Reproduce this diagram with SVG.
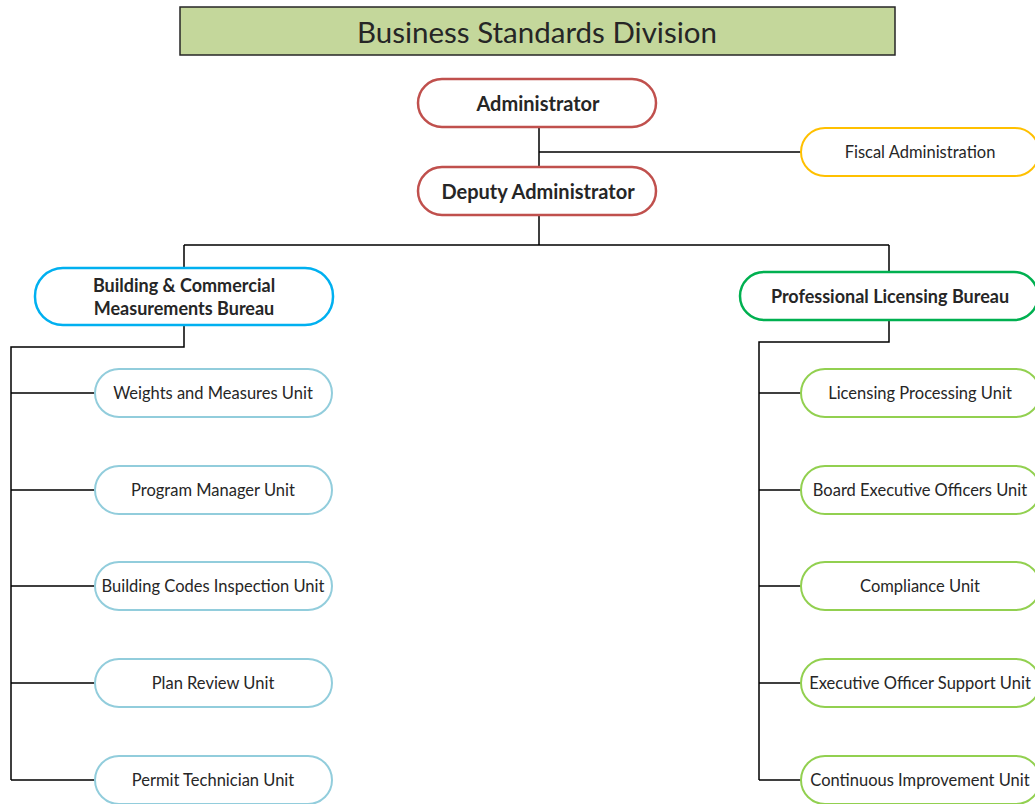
<svg xmlns="http://www.w3.org/2000/svg" width="1035" height="804" viewBox="0 0 1035 804">
<style>
text{font-family:Lato,"Open Sans","Liberation Sans",sans-serif;text-anchor:middle;dominant-baseline:central;fill:#262626}
.lead{fill:#fff;stroke:#c0504d;stroke-width:2.5}
.fis{fill:#fff;stroke:#ffc000;stroke-width:2}
.bb{fill:#fff;stroke:#00b0f0;stroke-width:2.5}
.gb{fill:#fff;stroke:#00b050;stroke-width:2.5}
.bu{fill:#fff;stroke:#92cddc;stroke-width:2}
.gu{fill:#fff;stroke:#92d050;stroke-width:2}
.big{font-size:20px;font-weight:bold}
.mid{font-size:18px;font-weight:bold}
.sm{font-size:16.5px}
.con{fill:none;stroke:#000;stroke-width:1.5}
</style>
<rect width="1035" height="804" fill="#fff"/>
<g id="connectors">
<path class="con" d="M539 127V245M539 152H801M184 245H889M184 245V268M889 245V272"/>
<path class="con" d="M184 325V347H11V780M11 393H95M11 490H95M11 586H95M11 683H95M11 780H95"/>
<path class="con" d="M889 320V342H759V780M759 393H801M759 490H801M759 586H801M759 683H801M759 780H801"/>
</g>
<g id="title"><rect x="180" y="7" width="715" height="48" fill="#c4d79b" stroke="#262626" stroke-width="1.5"/><text x="537" y="31" font-size="29.5">Business Standards Division</text></g>
<g id="administrator"><rect class="lead" x="418" y="79" width="238" height="48" rx="24"/><text class="big" x="538" y="103">Administrator</text></g>
<g id="deputy"><rect class="lead" x="418" y="167" width="238" height="48" rx="24"/><text class="big" x="538" y="191">Deputy Administrator</text></g>
<g id="fiscal"><rect class="fis" x="801" y="128" width="238" height="48" rx="24"/><text class="sm" x="920" y="152">Fiscal Administration</text></g>
<g id="bcmb"><rect class="bb" x="35" y="268" width="298" height="57" rx="28"/><text class="mid" x="184" y="285">Building &amp; Commercial</text><text class="mid" x="184" y="308">Measurements Bureau</text></g>
<g id="plb"><rect class="gb" x="740" y="272" width="298" height="48" rx="24"/><text class="mid" x="890" y="296">Professional Licensing Bureau</text></g>
<g id="wm"><rect class="bu" x="95" y="369" width="237" height="48" rx="24"/><text class="sm" x="213" y="393">Weights and Measures Unit</text></g>
<g id="pm"><rect class="bu" x="95" y="466" width="237" height="48" rx="24"/><text class="sm" x="213" y="490">Program Manager Unit</text></g>
<g id="bci"><rect class="bu" x="95" y="562" width="237" height="48" rx="24"/><text class="sm" x="213" y="586">Building Codes Inspection Unit</text></g>
<g id="pr"><rect class="bu" x="95" y="659" width="237" height="48" rx="24"/><text class="sm" x="213" y="683">Plan Review Unit</text></g>
<g id="pt"><rect class="bu" x="95" y="756" width="237" height="48" rx="24"/><text class="sm" x="213" y="780">Permit Technician Unit</text></g>
<g id="lp"><rect class="gu" x="801" y="369" width="239" height="48" rx="24"/><text class="sm" x="920" y="393">Licensing Processing Unit</text></g>
<g id="beo"><rect class="gu" x="801" y="466" width="239" height="48" rx="24"/><text class="sm" x="920" y="490">Board Executive Officers Unit</text></g>
<g id="cu"><rect class="gu" x="801" y="562" width="239" height="48" rx="24"/><text class="sm" x="920" y="586">Compliance Unit</text></g>
<g id="eos"><rect class="gu" x="801" y="659" width="239" height="48" rx="24"/><text class="sm" x="920" y="683">Executive Officer Support Unit</text></g>
<g id="ci"><rect class="gu" x="801" y="756" width="239" height="48" rx="24"/><text class="sm" x="920" y="780">Continuous Improvement Unit</text></g>
</svg>
